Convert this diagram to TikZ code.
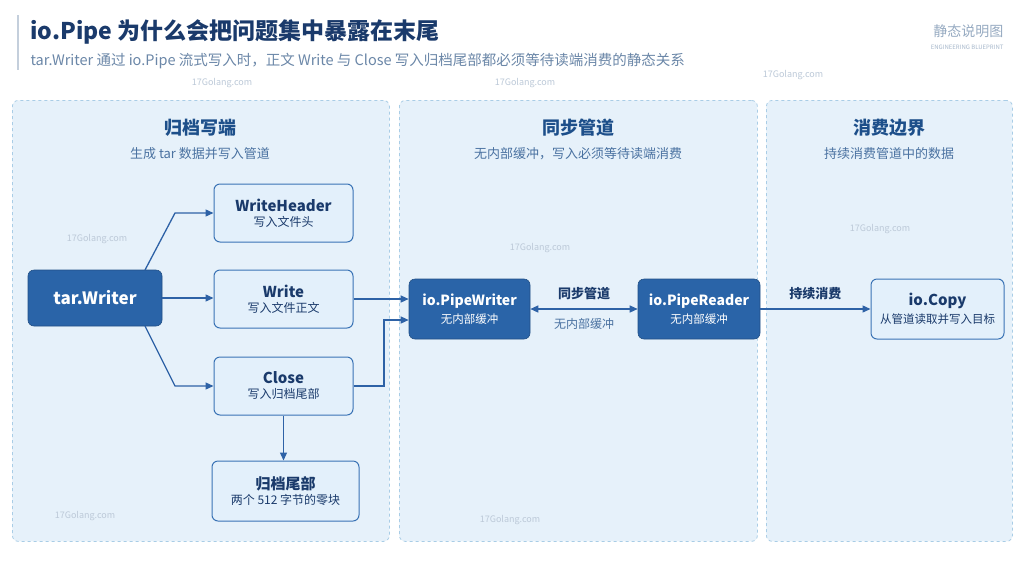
\documentclass[tikz,border=0pt]{standalone}
\usepackage{fontspec}
\setmainfont{Noto Sans CJK SC}
\usetikzlibrary{arrows.meta}
\definecolor{navy}{HTML}{1A3A6B}
\definecolor{sub}{HTML}{6B87A8}
\definecolor{panel}{HTML}{E6F1FA}
\definecolor{pborder}{HTML}{A9CDE6}
\definecolor{dark}{HTML}{2A64A8}
\definecolor{light}{HTML}{E3F0FB}
\definecolor{lborder}{HTML}{3A73B5}
\definecolor{head}{HTML}{1D4F8A}
\definecolor{arr}{HTML}{2E62A6}
\tikzset{
 panel/.style={draw=pborder,dashed,fill=panel,rounded corners=6pt,line width=0.8pt},
 dnode/.style={draw=dark!80!black,fill=dark,rounded corners=6pt,text=white,align=center,line width=0.6pt},
 lnode/.style={draw=lborder,fill=light,rounded corners=6pt,text=navy,align=center,line width=1pt},
 ar/.style={draw=arr,line width=1.3pt,-{Triangle[length=8pt,width=7pt]}},
 ph/.style={text=head,font=\fontsize{18}{20}\selectfont\bfseries},
 ps/.style={text=head!80,font=\fontsize{13}{15}\selectfont},
 wm/.style={text=sub!45,font=\fontsize{9}{10}\selectfont}
}
\begin{document}
\begin{tikzpicture}[x=1pt,y=-1pt]
\useasboundingbox (0,0) rectangle (1024,576);
\fill[white] (0,0) rectangle (1024,576);
\fill[sub!40] (17,15) rectangle (19,70);
\node[anchor=west,text=navy,font=\fontsize{23}{28}\selectfont\bfseries] (title) at (27,32) {io.Pipe\ 为什么会把问题集中暴露在末尾};
\node[anchor=west,text=sub,font=\fontsize{14.5}{16}\selectfont] (subt) at (27,61) {tar.Writer 通过 io.Pipe 流式写入时，正文 Write 与 Close 写入归档尾部都必须等待读端消费的静态关系};
\node[anchor=east,text=sub!70,font=\fontsize{14}{16}\selectfont] (tag) at (1007,31) {静态说明图};
\node[anchor=east,text=sub!60,font=\fontsize{6}{7}\selectfont] (tag2) at (1007,47) {ENGINEERING BLUEPRINT};
\node[panel,minimum width=377,minimum height=441,anchor=north west] (p1) at (12,100) {};
\node[panel,minimum width=358,minimum height=441,anchor=north west] (p2) at (399,100) {};
\node[panel,minimum width=246,minimum height=441,anchor=north west] (p3) at (766,100) {};
\node[wm] (w1) at (222,83) {17Golang.com};
\node[wm] (w2) at (525,83) {17Golang.com};
\node[wm] (w3) at (793,75) {17Golang.com};
\node[wm] (w4) at (97,239) {17Golang.com};
\node[wm] (w5) at (540,248) {17Golang.com};
\node[wm] (w6) at (880,229) {17Golang.com};
\node[wm] (w7) at (85,516) {17Golang.com};
\node[wm] (w8) at (510,520) {17Golang.com};
\node[ph] (h1) at (200,128) {归档写端};
\node[ps] (s1) at (200,154) {生成 tar 数据并写入管道};
\node[ph] (h2) at (578,128) {同步管道};
\node[ps] (s2) at (578,154) {无内部缓冲，写入必须等待读端消费};
\node[ph] (h3) at (889,128) {消费边界};
\node[ps] (s3) at (889,154) {持续消费管道中的数据};
\node[dnode,minimum width=134,minimum height=56,font=\fontsize{17}{19}\selectfont\bfseries] (tw) at (95,298) {tar.Writer};
\node[lnode,minimum width=139,minimum height=58] (wh) at (283.5,213) {{\fontsize{15}{17}\selectfont\bfseries WriteHeader}\\[3pt]{\fontsize{12}{14}\selectfont 写入文件头}};
\node[lnode,minimum width=139,minimum height=58] (wr) at (283.5,299) {{\fontsize{15}{17}\selectfont\bfseries Write}\\[3pt]{\fontsize{12}{14}\selectfont 写入文件正文}};
\node[lnode,minimum width=139,minimum height=58] (cl) at (283.5,386) {{\fontsize{15}{17}\selectfont\bfseries Close}\\[3pt]{\fontsize{12}{14}\selectfont 写入归档尾部}};
\node[lnode,minimum width=147,minimum height=60] (tail) at (285.5,491) {{\fontsize{15}{17}\selectfont\bfseries 归档尾部}\\[3pt]{\fontsize{12}{14}\selectfont 两个 512 字节的零块}};
\node[dnode,minimum width=121,minimum height=60] (pw) at (469.5,309) {{\fontsize{14}{16}\selectfont\bfseries io.PipeWriter}\\[4pt]{\fontsize{11.5}{13}\selectfont 无内部缓冲}};
\node[dnode,minimum width=122,minimum height=60] (pr) at (699,309) {{\fontsize{14}{16}\selectfont\bfseries io.PipeReader}\\[4pt]{\fontsize{11.5}{13}\selectfont 无内部缓冲}};
\node[lnode,minimum width=133,minimum height=60] (cp) at (937.5,309) {{\fontsize{15}{17}\selectfont\bfseries io.Copy}\\[4pt]{\fontsize{11.5}{13}\selectfont 从管道读取并写入目标}};
\coordinate (a1) at (145,270);
\coordinate (a2) at (175,213);
\coordinate (b1) at (145,326);
\coordinate (b2) at (175,386);
\coordinate (c1) at (384,386);
\coordinate (c2) at (384,320);
\draw[ar] (a1) -- (a2) -- (wh.west);
\draw[ar] (tw.east) -- (tw.east -| wr.west);
\draw[ar] (b1) -- (b2) -- (cl.west);
\draw[ar] (wr.east) -- (wr.east -| pw.west);
\draw[ar] (cl.east) -- (c1) -- (c2) -- (c2 -| pw.west);
\draw[ar] (cl.south) -- (cl.south |- tail.north);
\draw[ar,{Triangle[length=8pt,width=7pt]}-{Triangle[length=8pt,width=7pt]}] (pw.east) -- (pr.west) node[midway,above=5pt,text=navy,font=\fontsize{13}{15}\selectfont\bfseries] (l1) {同步管道} node[midway,below=5pt,text=head!80,font=\fontsize{12}{14}\selectfont] (l2) {无内部缓冲};
\draw[ar] (pr.east) -- (cp.west) node[midway,above=5pt,text=navy,font=\fontsize{13}{15}\selectfont\bfseries] (l3) {持续消费};
\end{tikzpicture}
\end{document}
